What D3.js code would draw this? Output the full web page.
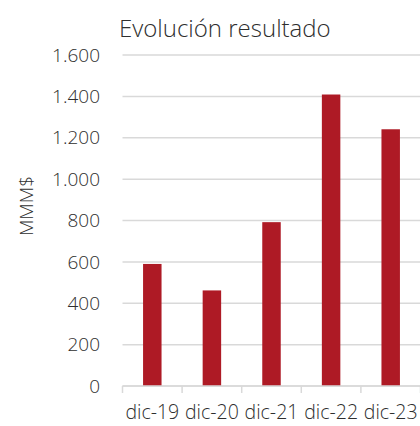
<!DOCTYPE html>
<html lang="es">
<head>
<meta charset="utf-8">
<script src="https://d3js.org/d3.v7.min.js"></script>
<style>
  body { margin: 0; background: #fff; }
  svg text { font-family: "Open Sans", "Segoe UI", sans-serif; font-weight: 300; fill: #2e2e2e; }
</style>
</head>
<body>
<script>
// datos
const categories = ["dic-19", "dic-20", "dic-21", "dic-22", "dic-23"];
const values = [590, 462, 792, 1409, 1241];
const yTicks = [0, 200, 400, 600, 800, 1000, 1200, 1400, 1600];
const title = "Evolución resultado";
const yLabel = "MMM$";

const width = 420, height = 426;
const mLeft = 122.5, mRight = 420.5, mTop = 55, mBottom = 386;

const svg = d3.select("body").append("svg")
  .attr("width", width)
  .attr("height", height);

const x = d3.scaleBand()
  .domain(categories)
  .range([mLeft, mRight])
  .paddingInner(0.69)
  .paddingOuter(0.345);

const y = d3.scaleLinear()
  .domain([0, 1600])
  .range([mBottom, mTop]);

const fmt = d => d3.format(",")(d).replace(/,/g, ".");

// lineas de cuadricula
svg.append("g")
  .selectAll("line")
  .data(yTicks)
  .enter()
  .append("line")
  .attr("x1", mLeft)
  .attr("x2", width)
  .attr("y1", d => y(d))
  .attr("y2", d => y(d))
  .attr("stroke", "#d9d9d9")
  .attr("stroke-width", 1.5);

// etiquetas eje y
svg.append("g")
  .selectAll("text")
  .data(yTicks)
  .enter()
  .append("text")
  .attr("x", 100)
  .attr("y", d => y(d))
  .attr("dy", "0.35em")
  .attr("text-anchor", "end")
  .style("font-size", "19px")
  .text(fmt);

// barras
svg.append("g")
  .selectAll("rect")
  .data(values)
  .enter()
  .append("rect")
  .attr("x", (d, i) => x(categories[i]))
  .attr("width", x.bandwidth())
  .attr("y", d => y(d))
  .attr("height", d => y(0) - y(d))
  .attr("fill", "#ae1a25");

// eje x
const xAxis = svg.append("g")
  .attr("transform", "translate(0," + mBottom + ")")
  .call(d3.axisBottom(x).tickSize(0));
xAxis.select(".domain").remove();
xAxis.selectAll("text")
  .attr("y", 33)
  .attr("dy", 0)
  .style("font-size", "19.5px")
  .attr("fill", "#2e2e2e");

const step = x.step();
const boundaries = d3.range(categories.length + 1).map(i => mLeft + i * step);
svg.append("g")
  .selectAll("line")
  .data(boundaries)
  .enter()
  .append("line")
  .attr("x1", d => d)
  .attr("x2", d => d)
  .attr("y1", mBottom)
  .attr("y2", mBottom + 7)
  .attr("stroke", "#d9d9d9")
  .attr("stroke-width", 1.5);

svg.append("line")
  .attr("x1", mLeft)
  .attr("x2", width)
  .attr("y1", mBottom)
  .attr("y2", mBottom)
  .attr("stroke", "#d9d9d9")
  .attr("stroke-width", 1.5);

// titulo
svg.append("text")
  .attr("x", 119)
  .attr("y", 37)
  .style("font-size", "24px")
  .text(title);

// etiqueta eje y
svg.append("text")
  .attr("transform", "translate(33,206) rotate(-90)")
  .attr("text-anchor", "middle")
  .style("font-size", "19px")
  .text(yLabel);
</script>
</body>
</html>
